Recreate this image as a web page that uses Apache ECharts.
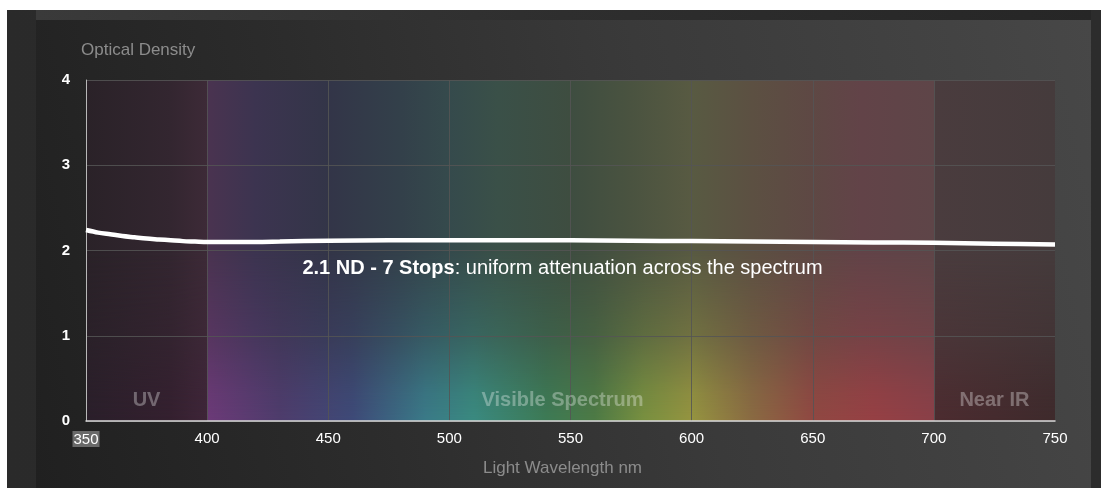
<!DOCTYPE html>
<html>
<head>
<meta charset="utf-8">
<script src="https://cdn.jsdelivr.net/npm/echarts@6/dist/echarts.min.js"></script>
<style>
  html, body { margin: 0; padding: 0; background: #ffffff; }
  #frame { position: absolute; left: 7px; top: 10px; width: 1094px; height: 478px;
           background: linear-gradient(90deg, #2a2a2a 0%, #2e2e2e 50%, #2c2c2c 100%); }
  #topStrip { position: absolute; left: 36px; top: 10px; width: 1055px; height: 10px;
              background: linear-gradient(90deg, #3a3a3a 0%, #2e2e2e 50%, #262626 100%); }
  #panel { position: absolute; left: 36px; top: 20px; width: 1055px; height: 468px;
           background: linear-gradient(78deg, #202020 0%, #2c2c2c 30%, #3a3a3a 60%, #474747 100%); }
  #chart { position: absolute; left: 0; top: 0; width: 1101px; height: 488px; }
</style>
</head>
<body>
<div id="frame"></div>
<div id="topStrip"></div>
<div id="panel"></div>
<div id="chart"></div>
<script>
// Optical density of a 2.1 ND filter across wavelength (nm)
const wavelengths = [350, 355, 360, 365, 370, 375, 380, 385, 390, 395, 400, 410, 420, 430, 450, 475, 500, 525, 550, 575, 600, 625, 650, 675, 700, 725, 750];
const density     = [2.24, 2.21, 2.19, 2.17, 2.155, 2.14, 2.13, 2.12, 2.11, 2.105, 2.10, 2.10, 2.10, 2.105, 2.115, 2.12, 2.12, 2.12, 2.12, 2.115, 2.11, 2.105, 2.10, 2.095, 2.09, 2.08, 2.07];

// Spectral regions
const regionNames = ['UV', 'Visible Spectrum', 'Near IR'];
const regionStart = [350, 400, 700];
const regionEnd   = [400, 700, 750];

// Axis ranges
const xMin = 350, xMax = 750, xStep = 50;
const yMin = 0, yMax = 4, yStep = 1;

// Annotation
const noteBold = '2.1 ND - 7 Stops';
const noteRest = ': uniform attenuation across the spectrum';

const FONT = '"Liberation Sans", Arial, Helvetica, sans-serif';

const chart = echarts.init(document.getElementById('chart'), null, { renderer: 'canvas' });

const option = {
  backgroundColor: 'transparent',
  animation: false,
  grid: { left: 86, right: 46, top: 80, bottom: 67, containLabel: false },
  xAxis: {
    type: 'value', min: xMin, max: xMax, interval: xStep,
    name: 'Light Wavelength nm', nameLocation: 'middle', nameGap: 39,
    nameTextStyle: { color: '#8c8c8c', fontSize: 17, fontFamily: FONT, padding: [0, 16, 0, 0] },
    axisLine: { show: true, lineStyle: { color: '#d8d8d8', width: 1.5 } },
    axisTick: { show: false },
    axisLabel: {
      color: '#ffffff', fontSize: 15, fontFamily: FONT, margin: 10,
      formatter: v => v === xMin ? '{hl|' + v + '}' : String(v),
      rich: { hl: { backgroundColor: '#6a6a6a', color: '#ffffff', fontSize: 15, fontFamily: FONT, padding: [1, 1, 0, 1] } }
    },
    splitLine: { show: true, showMaxLine: false, lineStyle: { color: 'rgba(85,85,85,0.85)', width: 1 } }
  },
  yAxis: {
    type: 'value', min: yMin, max: yMax, interval: yStep,
    name: 'Optical Density', nameLocation: 'end', nameGap: 30,
    nameTextStyle: { color: '#8c8c8c', fontSize: 17, fontFamily: FONT, align: 'left', verticalAlign: 'middle', padding: [0, 0, 0, -5] },
    axisLine: { show: true, lineStyle: { color: '#b8b8b8', width: 1 } },
    axisTick: { show: false },
    axisLabel: { color: '#ffffff', fontSize: 15, fontFamily: FONT, margin: 16, fontWeight: 'bold' },
    splitLine: { show: true, lineStyle: { color: 'rgba(85,85,85,0.85)', width: 1 } }
  },
  series: [{
    type: 'line',
    data: wavelengths.map((w, i) => [w, density[i]]),
    smooth: 0.3,
    showSymbol: false,
    lineStyle: { color: '#ffffff', width: 4.5 },
    z: 5
  }]
};

chart.setOption(option);

// Background spectrum painted on an offscreen canvas sized to the plot area
function paintSpectrum(w, h) {
  const c = document.createElement('canvas');
  c.width = w; c.height = h;
  const ctx = c.getContext('2d');
  const off = wl => (wl - xMin) / (xMax - xMin);

  const topStops = [
    [350, '#2a2228'], [385, '#332630'], [399.9, '#3d2a37'],
    [400, '#4a3350'], [420, '#3c3450'], [450, '#333548'], [480, '#33404a'],
    [500, '#354a4c'], [520, '#3a5048'], [550, '#3e4d40'], [575, '#4a5340'],
    [600, '#585a42'], [625, '#5c5042'], [650, '#5e4844'], [670, '#624348'], [699.9, '#5e4548'],
    [700, '#4a3c3e'], [750, '#453b3c']
  ];
  const bottomStops = [
    [350, '#2a1f2a'], [385, '#34202f'], [399.9, '#3e2538'],
    [400, '#6c3a78'], [430, '#4e3c6c'], [460, '#3e4a78'], [490, '#3a7a88'],
    [510, '#3a8a80'], [540, '#3d7a55'], [560, '#4d7a45'], [580, '#789040'],
    [600, '#959440'], [625, '#8a6a42'], [650, '#904842'], [675, '#964044'], [699.9, '#8a4048'],
    [700, '#4c2c30'], [750, '#3e2a2c']
  ];

  const gTop = ctx.createLinearGradient(0, 0, w, 0);
  topStops.forEach(s => gTop.addColorStop(off(s[0]), s[1]));
  ctx.fillStyle = gTop;
  ctx.fillRect(0, 0, w, h);

  // bright lower band, faded upward with an alpha mask
  const b = document.createElement('canvas');
  b.width = w; b.height = h;
  const bctx = b.getContext('2d');
  const gBot = bctx.createLinearGradient(0, 0, w, 0);
  bottomStops.forEach(s => gBot.addColorStop(off(s[0]), s[1]));
  bctx.fillStyle = gBot;
  bctx.fillRect(0, 0, w, h);
  bctx.globalCompositeOperation = 'destination-in';
  const mask = bctx.createLinearGradient(0, 0, 0, h);
  mask.addColorStop(0, 'rgba(0,0,0,0)');
  mask.addColorStop(0.5, 'rgba(0,0,0,0)');
  mask.addColorStop(0.75, 'rgba(0,0,0,0.4)');
  mask.addColorStop(0.92, 'rgba(0,0,0,0.88)');
  mask.addColorStop(1, 'rgba(0,0,0,1)');
  bctx.fillStyle = mask;
  bctx.fillRect(0, 0, w, h);
  ctx.drawImage(b, 0, 0);
  return c;
}

const px = (x, y) => chart.convertToPixel({ gridIndex: 0 }, [x, y]);
const tl = px(xMin, yMax), br = px(xMax, yMin);
const bw = Math.round(br[0] - tl[0]), bh = Math.round(br[1] - tl[1]);

const graphics = [{
  type: 'image', z: -10, silent: true,
  x: tl[0], y: tl[1],
  style: { image: paintSpectrum(bw, bh), width: bw, height: bh }
}];

regionNames.forEach((name, i) => {
  const p = px((regionStart[i] + regionEnd[i]) / 2, 0);
  graphics.push({
    type: 'text', z: 3, silent: true,
    x: p[0] - (i === 1 ? 8 : 0), y: p[1] - 21,
    style: {
      text: name, fill: 'rgba(255,255,255,0.32)',
      font: 'bold 20px ' + FONT, align: 'center', verticalAlign: 'middle'
    }
  });
});

const np = px(550, 2);
graphics.push({
  type: 'text', z: 6, silent: true,
  x: np[0] - 8, y: np[1] + 18,
  style: {
    text: '{b|' + noteBold + '}{n|' + noteRest + '}',
    align: 'center', verticalAlign: 'middle',
    rich: {
      b: { fill: '#ffffff', font: 'bold 20px ' + FONT },
      n: { fill: '#ffffff', font: '20px ' + FONT }
    }
  }
});

chart.setOption({ graphic: graphics });
</script>
</body>
</html>
